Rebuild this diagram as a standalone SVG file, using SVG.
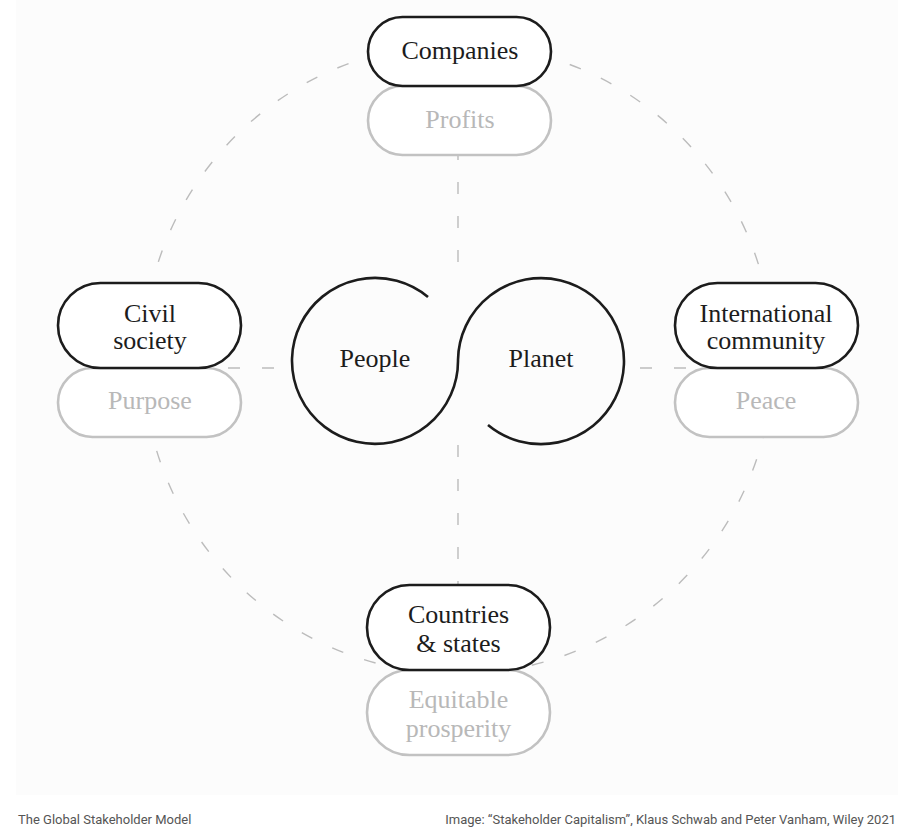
<svg xmlns="http://www.w3.org/2000/svg" width="910" height="832" viewBox="0 0 910 832">
<style>
.dash{fill:none;stroke:#bcbcbc;stroke-width:1.4;stroke-dasharray:12 22}
.pill{fill:#ffffff;stroke:#1c1c1c;stroke-width:2.6}
.pillg{fill:#ffffff;stroke:#c2c2c2;stroke-width:2.6}
.lbl{font-family:"Liberation Serif","DejaVu Serif",serif;font-size:26px;fill:#1c1c1c;text-anchor:middle}
.lblg{font-family:"Liberation Serif","DejaVu Serif",serif;font-size:26px;fill:#b8b8b8;text-anchor:middle}
.cap{font-family:Roboto,"Liberation Sans",sans-serif;font-size:13px;fill:#555555}
</style>
<rect x="0" y="0" width="910" height="832" fill="#ffffff"/>
<rect x="16" y="0" width="882" height="795" fill="#fcfcfc"/>
<g id="connectors">
<circle class="dash" cx="458" cy="359" r="315"/>
<line class="dash" x1="458" y1="155" x2="458" y2="272" stroke-dashoffset="7"/>
<line class="dash" x1="458" y1="445" x2="458" y2="585"/>
<line class="dash" x1="228" y1="368" x2="292" y2="368"/>
<line class="dash" x1="640" y1="368" x2="686" y2="368"/>
</g>
<g id="companies">
<rect class="pillg" x="368" y="86" width="183" height="69" rx="34.5"/>
<rect class="pill" x="368" y="17" width="183" height="69" rx="34.5"/>
<text class="lbl" x="460" y="59">Companies</text>
<text class="lblg" x="460" y="128">Profits</text>
</g>
<g id="civil-society">
<rect class="pillg" x="58" y="368" width="183" height="69" rx="34.5"/>
<rect class="pill" x="58" y="283" width="183" height="85" rx="42.5"/>
<text class="lbl" x="150" y="322">Civil</text>
<text class="lbl" x="150" y="349">society</text>
<text class="lblg" x="150" y="409">Purpose</text>
</g>
<g id="international-community">
<rect class="pillg" x="675" y="368" width="183" height="69" rx="34.5"/>
<rect class="pill" x="675" y="283" width="183" height="85" rx="42.5"/>
<text class="lbl" x="766" y="322">International</text>
<text class="lbl" x="766" y="349">community</text>
<text class="lblg" x="766" y="409">Peace</text>
</g>
<g id="countries-states">
<rect class="pillg" x="367" y="670" width="183" height="85" rx="42.5"/>
<rect class="pill" x="367" y="585" width="183" height="85" rx="42.5"/>
<text class="lbl" x="458.5" y="623">Countries</text>
<text class="lbl" x="458.5" y="652">&amp; states</text>
<text class="lblg" x="458.5" y="708">Equitable</text>
<text class="lblg" x="458.5" y="737">prosperity</text>
</g>
<g id="people-planet">
<path d="M428,297 A83,83 0 1 0 458,360 A83,83 0 1 1 488,425" fill="none" stroke="#1c1c1c" stroke-width="2.6" stroke-linecap="butt"/>
<text class="lbl" x="375" y="367">People</text>
<text class="lbl" x="541" y="367">Planet</text>
</g>
<g id="captions">
<text class="cap" x="18" y="824">The Global Stakeholder Model</text>
<text class="cap" x="896" y="824" text-anchor="end">Image: “Stakeholder Capitalism”, Klaus Schwab and Peter Vanham, Wiley 2021</text>
</g>
</svg>
